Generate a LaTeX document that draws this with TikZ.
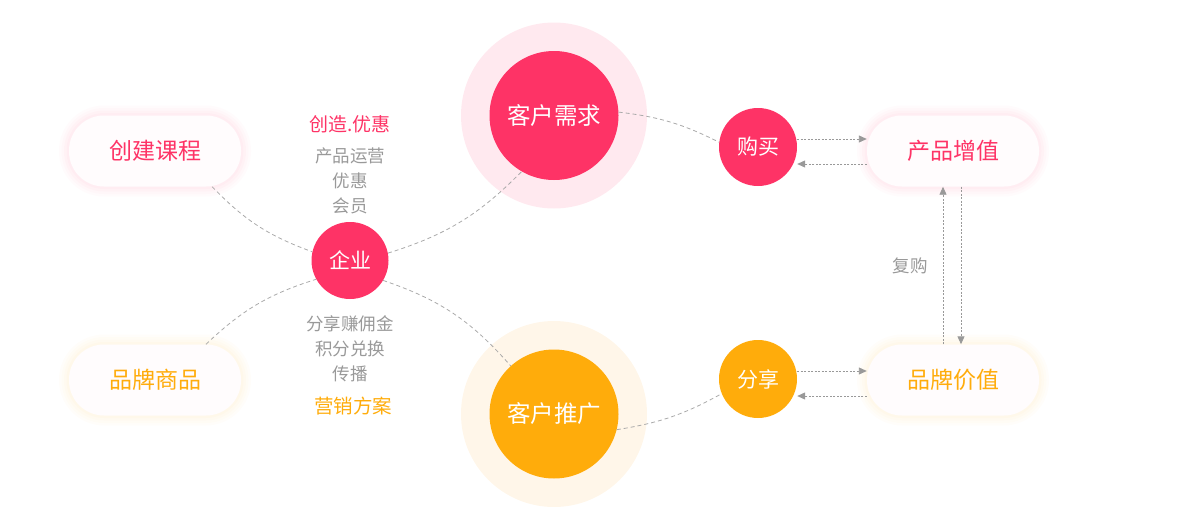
\documentclass[tikz,border=0pt]{standalone}
\usepackage{fontspec}
\usepackage{xcolor}
\usepackage{tikz}
\newfontfamily\cjk{Noto Sans CJK SC}
\usetikzlibrary{arrows.meta, calc}

\definecolor{rosa}{HTML}{FE3366}
\definecolor{laranja}{HTML}{FFAC0B}
\definecolor{rosahalo}{HTML}{FFE9EF}
\definecolor{laranjahalo}{HTML}{FFF6E9}
\definecolor{pillbg}{HTML}{FFFCFD}
\definecolor{linha}{HTML}{AAAAAA}
\definecolor{seta}{HTML}{999999}
\definecolor{cinza}{HTML}{999999}

\tikzset{
  halo/.style={circle, fill=#1, inner sep=0pt, minimum size=186pt},
  ball/.style={circle, fill=#1, text=white, inner sep=0pt},
  pill/.style={rectangle, rounded corners=35pt, minimum width=172pt,
    minimum height=71pt, fill=pillbg, text=#1,
    font=\cjk\fontsize{23}{26}\selectfont,
    preaction={draw=#1, draw opacity=0.02, line width=20pt},
    preaction={draw=#1, draw opacity=0.02, line width=15pt},
    preaction={draw=#1, draw opacity=0.025, line width=10pt},
    preaction={draw=#1, draw opacity=0.025, line width=5pt}},
  note/.style={text=cinza, align=center, font=\cjk\fontsize{17.5}{25}\selectfont},
  link/.style={draw=linha, line width=0.8pt, dash pattern=on 4pt off 3pt},
  arr/.style={draw=seta, line width=0.9pt, dash pattern=on 2pt off 1.5pt,
    -{Triangle[length=8pt, width=7pt]}}
}

\begin{document}
\begin{tikzpicture}[x=1pt, y=-1pt]
  \useasboundingbox (0,0) rectangle (1200,530);
  % halos
  \node[halo=rosahalo] (xqh) at (554,115.5) {};
  \node[halo=laranjahalo] (tgh) at (554,414) {};
  % circulos
  \node[ball=rosa, minimum size=129pt, font=\cjk\fontsize{23.5}{26}\selectfont] (xq) at (554,115.5) {客户需求};
  \node[ball=laranja, minimum size=129pt, font=\cjk\fontsize{23.5}{26}\selectfont] (tg) at (554,414) {客户推广};
  \node[ball=rosa, minimum size=77pt, font=\cjk\fontsize{21}{24}\selectfont] (qy) at (350,260.5) {企业};
  \node[ball=rosa, minimum size=78pt, font=\cjk\fontsize{21}{24}\selectfont] (gm) at (758,147) {购买};
  \node[ball=laranja, minimum size=78pt, font=\cjk\fontsize{21}{24}\selectfont] (fx) at (758,379) {分享};
  % pilulas
  \node[pill=rosa] (kc) at (155,151) {创建课程};
  \node[pill=laranja] (pp) at (155,380) {品牌商品};
  \node[pill=rosa] (cp) at (953,151) {产品增值};
  \node[pill=laranja] (pv) at (953,380) {品牌价值};
  % textos
  \node[text=rosa, font=\cjk\fontsize{19}{22}\selectfont] (yh) at (350,124) {创造.优惠};
  \node[note] (yy) at (350,181) {产品运营\\优惠\\会员};
  \node[note] (yj) at (350,349) {分享赚佣金\\积分兑换\\传播};
  \node[text=laranja, font=\cjk\fontsize{19.5}{22}\selectfont] (ya) at (353,406) {营销方案};
  \node[note] (fg) at (910,266) {复购};
  % ligacoes
  \draw[link] (kc.-32) to[bend right=13] (qy.167);
  \draw[link] (qy.11) to[bend right=14] (xq.240);
  \draw[link] (xq.3) to[bend left=10] (gm.173);
  \draw[link] (qy.-31) to[bend left=15] (tg.132);
  \draw[link] (pp.35) to[bend left=13] (qy.209);
  \draw[link] (tg.-14) to[bend right=10] (fx.202);
  % setas
  \coordinate (cpa) at ([yshift=12pt]cp.west);
  \coordinate (cpb) at ([yshift=-13pt]cp.west);
  \coordinate (pva) at ([yshift=9pt]pv.west);
  \coordinate (pvb) at ([yshift=-16pt]pv.west);
  \draw[arr] (cpa -| gm.east) -- (cpa);
  \draw[arr] (cpb) -- (cpb -| gm.east);
  \draw[arr] (pva -| fx.east) -- (pva);
  \draw[arr] (pvb) -- (pvb -| fx.east);
  \coordinate (pvu) at ([xshift=-10pt]pv.north);
  \coordinate (pvd) at ([xshift=8pt]pv.north);
  \draw[arr] (pvu) -- (pvu |- cp.south);
  \draw[arr] (pvd |- cp.south) -- (pvd);
\end{tikzpicture}
\end{document}
